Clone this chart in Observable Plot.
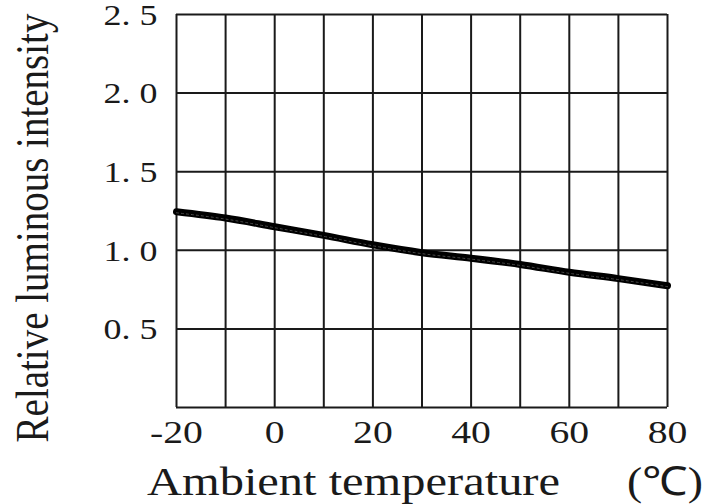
<!DOCTYPE html>
<html><head><meta charset="utf-8">
<script src="https://cdn.jsdelivr.net/npm/d3@7"></script>
<script src="https://cdn.jsdelivr.net/npm/@observablehq/plot@0.6"></script>
<style>body{margin:0;background:#fff} svg{display:block}</style>
</head><body><div id="chart"></div>
<script>
const temperatures = [-20, -10, 0, 10, 20, 30, 40, 50, 60, 70, 80];
const intensity = [1.245, 1.205, 1.15, 1.095, 1.035, 0.985, 0.95, 0.91, 0.86, 0.82, 0.775];
const xTicks = [-20, 0, 20, 40, 60, 80];
const yTicks = [0.5, 1.0, 1.5, 2.0, 2.5];
const xGrid = [-20, -10, 0, 10, 20, 30, 40, 50, 60, 70, 80];
const yGrid = [0, 0.5, 1.0, 1.5, 2.0, 2.5];
const xLabel = "Ambient temperature";
const xUnit = "(℃)";
const yLabel = "Relative luminous intensity";

const data = temperatures.map((t, i) => ({t, v: intensity[i]}));
const serif = "'Liberation Serif','Times New Roman',serif";

const chart = Plot.plot({
  width: 705, height: 504,
  marginLeft: 176, marginRight: 38, marginTop: 14, marginBottom: 97,
  style: {fontFamily: serif, background: "#fff", color: "#1a1a1a"},
  x: {domain: [-20, 80]},
  y: {domain: [0, 2.5]},
  marks: [
    Plot.ruleX(xGrid, {stroke: "#1a1a1a", strokeWidth: 2}),
    Plot.ruleY(yGrid, {stroke: "#1a1a1a", strokeWidth: 2}),
    Plot.line(data, {x: "t", y: "v", stroke: "#000", strokeWidth: 7, curve: "monotone-x"}),
    Plot.line(data, {x: "t", y: "v", stroke: "#4a4a4a", strokeWidth: 1, strokeDasharray: "2,3", dy: 1, curve: "monotone-x"}),
    Plot.axisX(xTicks, {tickSize: 0, tickPadding: 13, fontSize: 32, label: null, tickFormat: d => String(d)}),
    Plot.axisY(yTicks, {tickSize: 0, tickPadding: 19, fontSize: 29, label: null, dy: 1, tickFormat: d => d.toFixed(1).replace(".", ". ")})
  ]
});
document.getElementById("chart").appendChild(chart);

// horizontal stretch of tick labels like the reference
chart.querySelectorAll('g[aria-label$="tick label"] text').forEach(t => {
  const w = t.getComputedTextLength();
  t.setAttribute("textLength", (w * 1.24).toFixed(1));
  t.setAttribute("lengthAdjust", "spacingAndGlyphs");
});

const svg = d3.select(chart);
svg.append("text")
  .attr("transform", "translate(48,228) scale(1.2,1) rotate(-90)")
  .attr("text-anchor", "middle")
  .attr("font-family", serif).attr("font-size", 39).attr("fill", "#1a1a1a")
  .text(yLabel);
svg.append("text")
  .attr("x", 147).attr("y", 495)
  .attr("text-anchor", "start")
  .attr("font-family", serif).attr("font-size", 40).attr("fill", "#1a1a1a")
  .attr("textLength", 413).attr("lengthAdjust", "spacingAndGlyphs")
  .text(xLabel);
svg.append("text")
  .attr("x", 627).attr("y", 495)
  .attr("text-anchor", "start")
  .attr("font-family", serif).attr("font-size", 40).attr("fill", "#1a1a1a")
  .attr("textLength", 76).attr("lengthAdjust", "spacingAndGlyphs")
  .text(xUnit);
</script>
</body></html>
